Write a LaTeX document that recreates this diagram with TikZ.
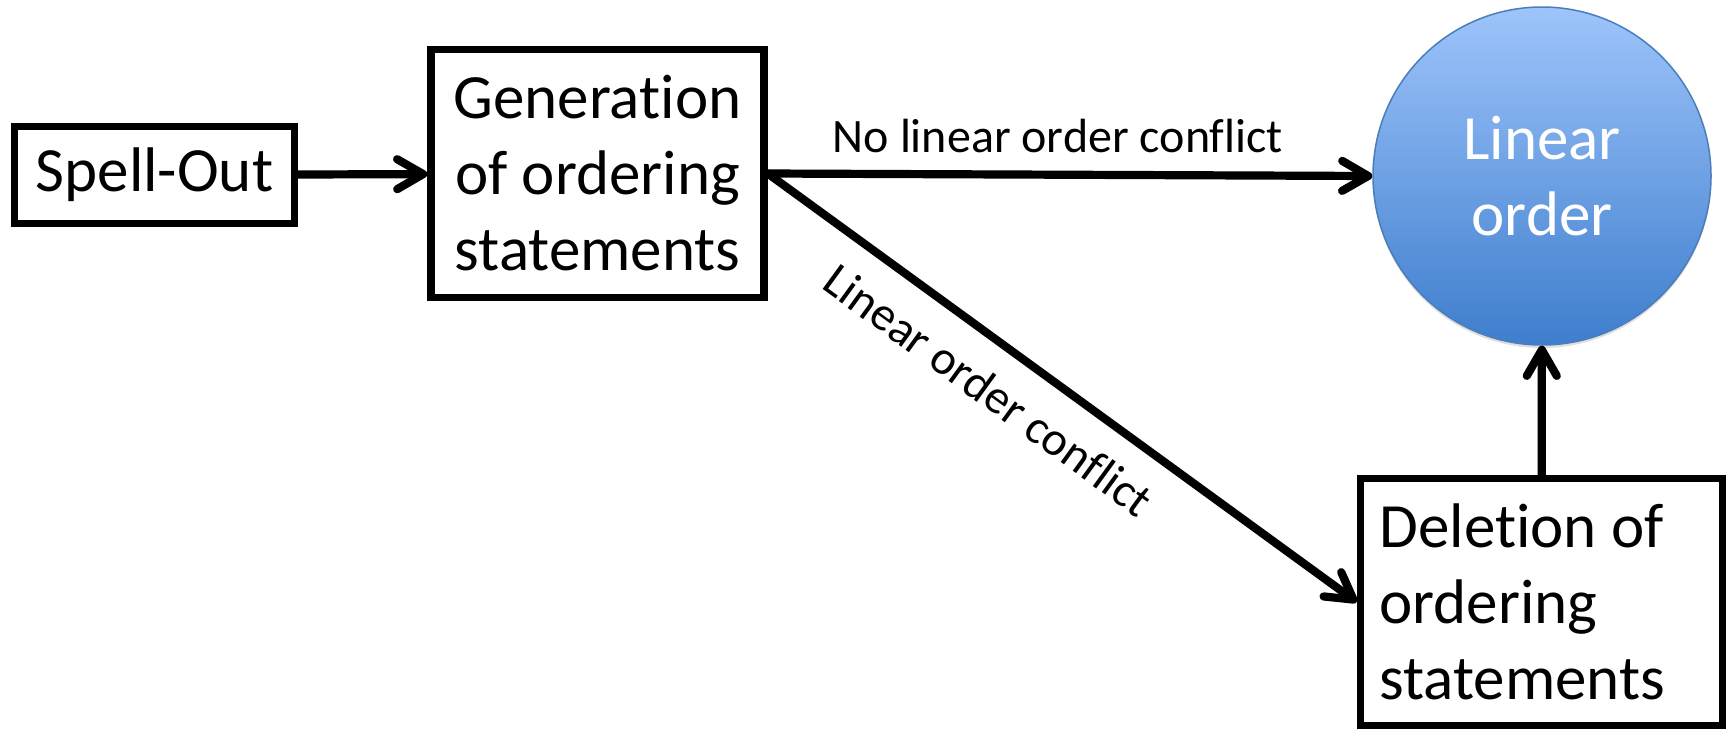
\documentclass[tikz,border=0pt]{standalone}
\usepackage{fontspec}
\setmainfont{Carlito}[RawFeature={-liga}]
\usetikzlibrary{arrows.meta,shadows}
\definecolor{circtop}{RGB}{158,196,251}
\definecolor{circbot}{RGB}{62,126,205}
\definecolor{circline}{RGB}{74,126,187}
\begin{document}
\begin{tikzpicture}[x=0.5pt,y=-0.5pt,
  box/.style={draw, line width=3.75pt, inner sep=0pt, font=\fontsize{31.5pt}{38pt}\selectfont},
  arr/.style={line width=4.1pt, line cap=round,
    -{Straight Barb[length=13pt,width=15pt,line cap=round,line join=round]}},
  lbl/.style={font=\fontsize{24pt}{28pt}\selectfont, inner sep=0pt}]
\useasboundingbox (0,0) rectangle (1733,729);
\node[box, minimum width=140pt, minimum height=48.5pt] (so) at (154.5,175) {Spell-Out};
\node[box, minimum width=166.5pt, minimum height=124pt, align=center] (gen) at (597.5,173.5) {Generation\\of ordering\\statements};
\node[box, minimum width=181pt, minimum height=123.5pt, align=flush left, text width=162pt] (del) at (1541.5,602) {Deletion of\\ordering\\statements};
\node[circle, draw=circline, line width=0.75pt, top color=circtop, bottom color=circbot,
  drop shadow={shadow xshift=0pt, shadow yshift=-1.5pt, opacity=0.25},
  minimum size=169pt, inner sep=0pt, align=center, text=white,
  font=\fontsize{31.5pt}{38pt}\selectfont] (lin) at (1542,176) {Linear\\order};
\draw[arr] (so) -- (gen);
\draw[arr] (gen.east) -- (lin.west) node[lbl, pos=0.48, above=9pt] {No linear order conflict};
\draw[arr] (gen.east) -- (del.west) node[lbl, pos=0.42, sloped, below=12pt] {Linear order conflict};
\draw[arr] (del) -- (lin);
\end{tikzpicture}
\end{document}
